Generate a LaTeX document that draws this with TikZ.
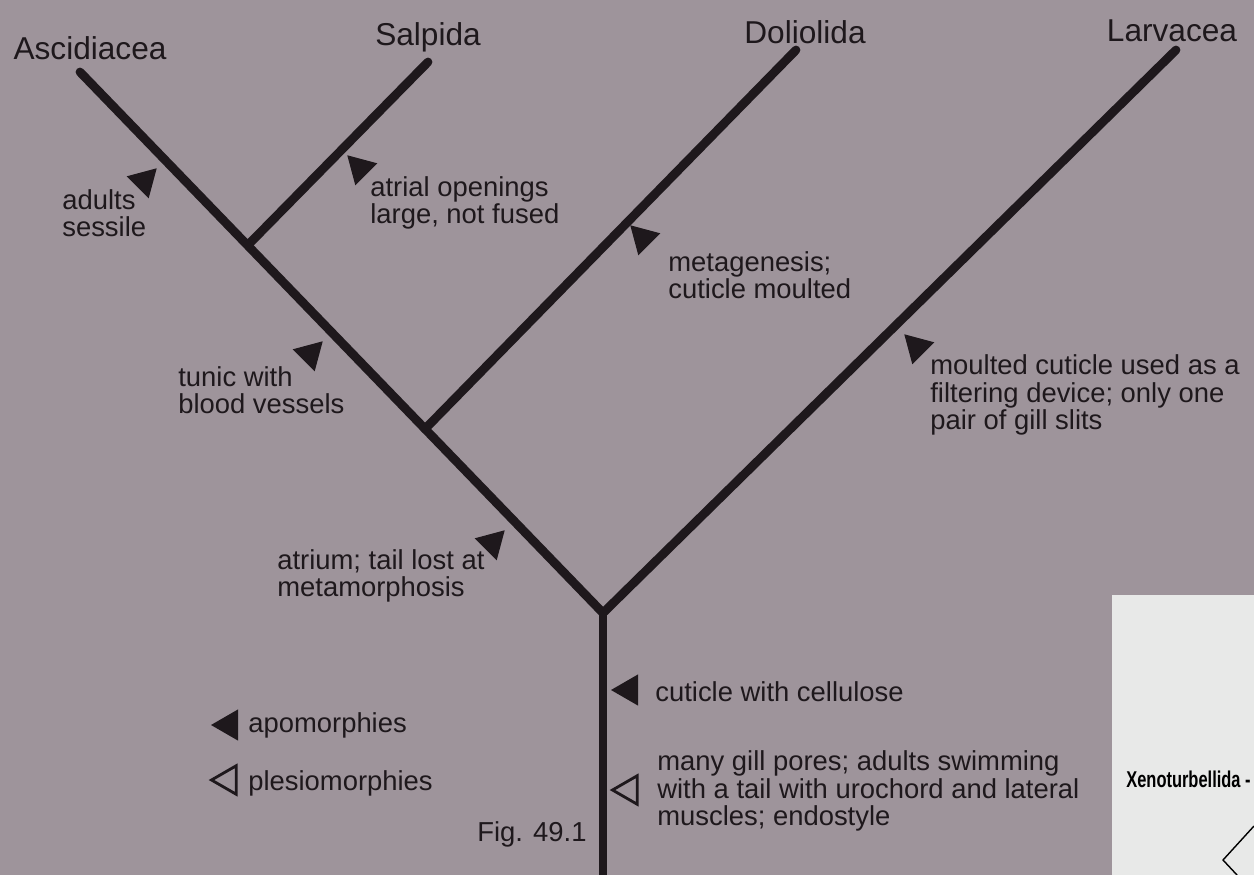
\documentclass[tikz,border=0pt]{standalone}
\usepackage{fontspec}
\setmainfont{Liberation Sans}
\usetikzlibrary{positioning, shapes.geometric}
\definecolor{page}{RGB}{158,148,155}
\definecolor{ink}{RGB}{30,24,28}
\definecolor{insetgray}{RGB}{232,233,232}

\begin{document}
\begin{tikzpicture}[x=0.02cm, y=-0.02cm,
    branch/.style={line width=5pt, draw=ink, line cap=round, line join=round},
    taxon/.style={text=ink, font=\fontsize{18}{20}\selectfont, inner sep=0},
    lab/.style={text=ink, font=\fontsize{15.6}{15.6}\selectfont, align=left, anchor=west, inner sep=0},
    apo/.style={regular polygon, regular polygon sides=3, fill=ink, inner sep=0, minimum size=0.72cm},
    plesio/.style={regular polygon, regular polygon sides=3, draw=ink, line width=1.6pt, inner sep=0, minimum size=0.66cm}]
    \fill[page] (0,0) rectangle (1254,875);
    \useasboundingbox (0,0) rectangle (1254,875);
    \fill[insetgray] (1112,595) rectangle (1254,875);

    \coordinate (root) at (603,613);
    \coordinate (ascTip) at (80,72);
    \coordinate (n1) at (248,245);
    \coordinate (n2) at (425,429);
    \coordinate (salTip) at (428,62);
    \coordinate (dolTip) at (796,50);
    \coordinate (larTip) at (1176,50);
    \coordinate (base) at (603,880);

    \draw[branch] (ascTip) -- (root) -- (larTip);
    \draw[branch] (n1) -- (salTip);
    \draw[branch] (n2) -- (dolTip);
    \draw[branch, line cap=butt] (root) -- (base);

    \node[taxon] (asc) at (90,48) {Ascidiacea};
    \node[taxon] (sal) at (428,37) {Salpida};
    \node[taxon] (dol) at (805,32) {Doliolida};
    \node[taxon] (lar) at (1172,31) {Larvacea};

    \node[apo, rotate=-45] (t1) at (144,181) {};
    \node[apo, rotate=45] (t2) at (360,168) {};
    \node[apo, rotate=-45] (t3) at (310,354) {};
    \node[apo, rotate=45] (t4) at (643,238) {};
    \node[apo, rotate=45] (t5) at (917,347) {};
    \node[apo, rotate=-45] (t6) at (492,543) {};
    \node[apo, rotate=90] (t7) at (629,690) {};
    \node[plesio, rotate=90] (t8) at (629,790) {};

    \node[lab] (l1) at (62,213) {adults\\sessile};
    \node[lab] (l2) at (370,203) {atrial openings\\large, not fused};
    \node[lab] (l3) at (178,390) {tunic with\\blood vessels};
    \node[lab] (l4) at (668,275) {metagenesis;\\cuticle moulted};
    \node[lab] (l5) at (930,395) {moulted cuticle used as a\\filtering device; only one\\pair of gill slits};
    \node[lab] (l6) at (277,576) {atrium; tail lost at\\metamorphosis};
    \node[lab] (l7) at (655,692) {cuticle with cellulose};
    \node[lab] (l8) at (657,791) {many gill pores; adults swimming\\with a tail with urochord and lateral\\muscles; endostyle};

    \node[apo, rotate=90] (key1) at (229,725) {};
    \node[plesio, rotate=90] (key2) at (228,780) {};
    \node[lab] (apoText) at (248,725) {apomorphies};
    \node[lab] (plesioText) at (248,783) {plesiomorphies};

    \node[lab, anchor=center] (fig) at (532,834) {Fig. 49.1};

    \node[anchor=west, inner sep=0, text=black, font=\bfseries\fontsize{13}{14}\selectfont] (xeno) at (1126,779) {\scalebox{0.72}[1]{Xenoturbellida -}};
    \draw[black, line width=0.8pt] (1254,826) -- (1223,860) -- (1237,875);
\end{tikzpicture}
\end{document}
